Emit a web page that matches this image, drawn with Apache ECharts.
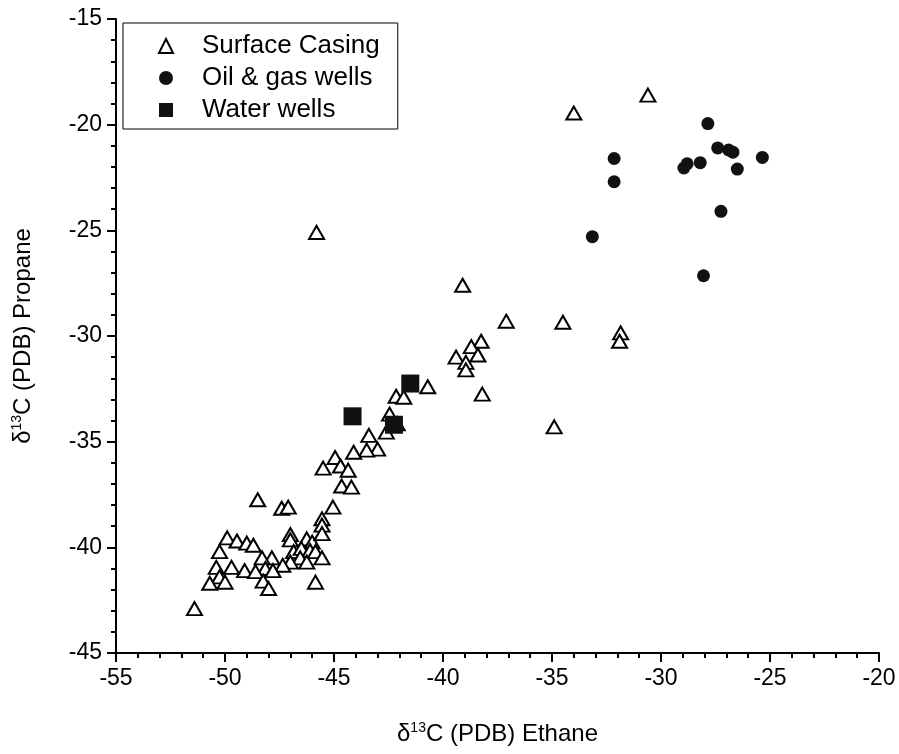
<!DOCTYPE html>
<html>
<head>
<meta charset="utf-8">
<script src="https://cdn.jsdelivr.net/npm/echarts@6/dist/echarts.min.js"></script>
<style>
html,body{margin:0;padding:0;background:#fff;}
#chart{width:899px;height:754px;}
</style>
</head>
<body>
<div id="chart"></div>
<script>
// δ13C Ethane (x), δ13C Propane (y)
var surfaceCasing = [
  [-51.4,-42.9],[-45.8,-25.1],[-34.0,-19.45],[-30.6,-18.6],[-39.1,-27.6],
  [-37.1,-29.3],[-34.5,-29.35],[-31.85,-29.85],[-31.9,-30.25],[-34.9,-34.3],
  [-40.7,-32.4],[-38.2,-32.75],[-38.25,-30.25],[-38.7,-30.5],[-38.4,-30.9],
  [-39.4,-31.0],[-38.95,-31.25],[-38.95,-31.6],
  [-42.15,-32.85],[-41.8,-32.9],[-42.45,-33.7],[-42.1,-34.15],[-42.6,-34.55],
  [-43.4,-34.7],[-43.0,-35.35],[-43.5,-35.4],[-44.1,-35.5],[-44.95,-35.75],
  [-45.5,-36.25],[-44.7,-36.15],[-44.35,-36.35],[-44.65,-37.1],[-44.2,-37.15],
  [-45.05,-38.1],[-45.55,-38.65],[-45.55,-38.95],[-48.5,-37.75],[-47.4,-38.15],[-47.1,-38.1],
  [-49.9,-39.55],[-49.45,-39.7],[-49.0,-39.8],[-48.7,-39.9],[-50.25,-40.2],
  [-47.0,-39.4],[-46.25,-39.6],[-46.0,-39.75],[-45.55,-39.35],[-47.0,-39.65],
  [-46.85,-40.2],[-46.5,-40.05],[-46.1,-40.15],[-45.85,-40.2],[-45.55,-40.5],
  [-46.55,-40.5],[-46.25,-40.7],[-47.0,-40.7],[-47.35,-40.85],[-47.85,-40.5],
  [-48.3,-40.5],[-48.15,-41.0],[-47.8,-41.1],[-49.1,-41.1],[-48.6,-41.15],
  [-48.25,-41.6],[-48.0,-41.95],[-45.85,-41.65],
  [-49.7,-40.95],[-50.4,-40.95],[-50.25,-41.4],[-50.0,-41.65],[-50.7,-41.7]
];
var oilGasWells = [
  [-27.85,-19.95],[-27.4,-21.1],[-26.9,-21.2],[-26.7,-21.3],[-25.35,-21.55],
  [-28.2,-21.8],[-28.8,-21.85],[-28.95,-22.05],[-26.5,-22.1],[-32.15,-21.6],
  [-32.15,-22.7],[-27.25,-24.1],[-33.15,-25.3],[-28.05,-27.15]
];
var waterWells = [
  [-41.5,-32.25],[-44.15,-33.8],[-42.25,-34.2]
];
var xTicks = {min:-55, max:-20, step:5};
var yTicks = {min:-45, max:-15, step:5};

var FONT = 'Liberation Sans, Arial, sans-serif';
var chart = echarts.init(document.getElementById('chart'), null, {renderer:'canvas'});

function axisCommon(){
  return {
    axisLine:{show:true, onZero:false, lineStyle:{color:'#000', width:2}},
    axisTick:{show:true, inside:false, length:9, lineStyle:{color:'#000', width:2}},
    minorTick:{show:true, splitNumber:5, length:5, lineStyle:{color:'#000', width:2}},
    splitLine:{show:false},
    axisLabel:{color:'#000', fontFamily:FONT, fontSize:23, margin:14},
  };
}
var richT = {d:{fontSize:24,fontFamily:FONT,color:'#000'}, s:{fontSize:14,fontFamily:FONT,color:'#000',padding:[0,0,12,0]}, n:{fontSize:24,fontFamily:FONT,color:'#000'}};
var xAxis = Object.assign(axisCommon(), {
  type:'value', min:xTicks.min, max:xTicks.max, interval:xTicks.step,
  name:'{d|δ}{s|13}{n|C (PDB) Ethane}', nameLocation:'middle', nameGap:68,
  nameTextStyle:{color:'#000', fontFamily:FONT, fontSize:24, rich:richT}
});
var yAxis = Object.assign(axisCommon(), {
  type:'value', min:yTicks.min, max:yTicks.max, interval:yTicks.step,
  name:'{d|δ}{s|13}{n|C (PDB) Propane}', nameLocation:'middle', nameGap:80,
  nameTextStyle:{color:'#000', fontFamily:FONT, fontSize:24, rich:richT}
});

chart.setOption({
  animation:false,
  backgroundColor:'#fff',
  grid:{left:116, right:20, top:19, bottom:101, containLabel:false},
  xAxis:xAxis,
  yAxis:yAxis,
  legend:{
    orient:'vertical', left:123, top:23,
    borderColor:'#000', borderWidth:1,
    padding:[10,18,6,35],
    itemWidth:14, itemHeight:14, itemGap:6,
    textStyle:{color:'#000', fontFamily:FONT, fontSize:26, lineHeight:22, padding:[0,0,0,24]},
    data:[
      {name:'Surface Casing', icon:'triangle', itemStyle:{color:'#fff', borderColor:'#000', borderWidth:2}},
      {name:'Oil & gas wells', icon:'circle'},
      {name:'Water wells', icon:'rect'}
    ]
  },
  series:[
    {name:'Surface Casing', type:'scatter', data:surfaceCasing, symbol:'triangle', symbolSize:[15,13],
      itemStyle:{color:'#fff', borderColor:'#000', borderWidth:2, opacity:1}, z:2},
    {name:'Oil & gas wells', type:'scatter', data:oilGasWells, symbol:'circle', symbolSize:13,
      itemStyle:{color:'#111', opacity:1}, z:3},
    {name:'Water wells', type:'scatter', data:waterWells, symbol:'rect', symbolSize:18,
      itemStyle:{color:'#111', opacity:1}, z:4}
  ]
});
</script>
</body>
</html>
